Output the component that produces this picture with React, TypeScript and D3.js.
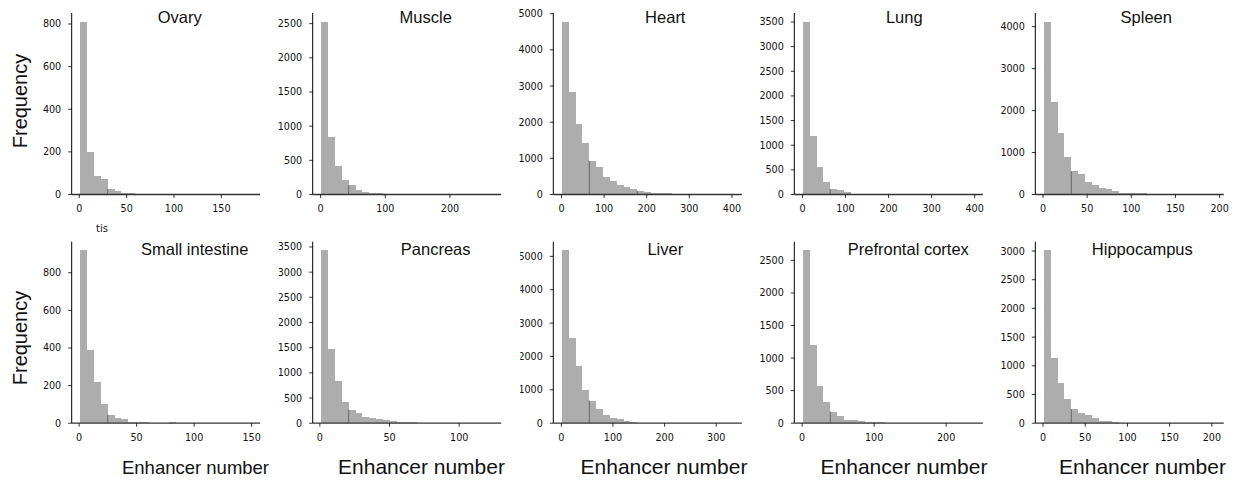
import React from "react";
import * as d3 from "d3";

// ---- data ----
const TISSUES = ["Ovary", "Muscle", "Heart", "Lung", "Spleen", "Small intestine", "Pancreas", "Liver", "Prefrontal cortex", "Hippocampus"];
const RANGE_MIN = [1, 1, 1, 1, 1, 1, 1, 1, 1, 1];
const RANGE_MAX = [182, 266, 403, 399, 195, 150, 124, 333, 239, 204];

const ovary = [811, 198, 86, 72, 25, 16, 8, 5, 4, 3, 3, 2, 1, 2, 1, 1, 1, 0, 1, 1, 0, 1, 0, 0, 1];
const muscle = [2529, 845, 415, 215, 135, 60, 34, 15, 25, 8, 5, 4, 4, 3, 2, 2, 1, 2, 1, 1, 1, 0, 1, 0, 1];
const heart = [4780, 2840, 1950, 1430, 930, 760, 490, 375, 270, 205, 150, 100, 65, 40, 38, 35, 22, 15, 12, 10, 8, 6, 4, 3, 2];
const lung = [3507, 1194, 563, 258, 115, 90, 47, 20, 10, 8, 5, 4, 3, 2, 2, 1, 1, 1, 1, 0, 1, 0, 0, 0, 1];
const spleen = [4120, 2207, 1474, 900, 558, 494, 295, 223, 151, 127, 88, 42, 40, 38, 36, 15, 12, 10, 8, 6, 5, 4, 3, 3, 2];
const smallIntestine = [919, 390, 220, 100, 45, 30, 20, 8, 8, 5, 3, 3, 2, 4, 2, 1, 1, 1, 0, 1, 1, 0, 0, 0, 1];
const pancreas = [3433, 1465, 848, 430, 272, 212, 133, 113, 80, 60, 40, 26, 20, 15, 12, 10, 12, 8, 6, 4, 3, 3, 2, 2, 1];
const liver = [5180, 2540, 1700, 980, 680, 440, 260, 170, 140, 55, 45, 20, 15, 10, 8, 6, 5, 4, 3, 2, 2, 1, 1, 1, 1];
const prefrontal = [2654, 1194, 569, 318, 179, 118, 56, 42, 40, 26, 15, 14, 10, 8, 6, 5, 4, 3, 3, 2, 2, 1, 1, 1, 1];
const hippocampus = [3012, 1134, 698, 419, 244, 174, 140, 87, 47, 30, 17, 12, 10, 8, 10, 6, 5, 4, 3, 3, 2, 2, 1, 1, 1];
const COUNTS = [ovary, muscle, heart, lung, spleen, smallIntestine, pancreas, liver, prefrontal, hippocampus];

const X_TICKS = [
  [0, 50, 100, 150],
  [0, 100, 200],
  [0, 100, 200, 300, 400],
  [0, 100, 200, 300, 400],
  [0, 50, 100, 150, 200],
  [0, 50, 100, 150],
  [0, 50, 100],
  [0, 100, 200, 300],
  [0, 100, 200],
  [0, 50, 100, 150, 200],
];
const Y_TICKS = [
  [0, 200, 400, 600, 800],
  [0, 500, 1000, 1500, 2000, 2500],
  [0, 1000, 2000, 3000, 4000, 5000],
  [0, 500, 1000, 1500, 2000, 2500, 3000, 3500],
  [0, 1000, 2000, 3000, 4000],
  [0, 200, 400, 600, 800],
  [0, 500, 1000, 1500, 2000, 2500, 3000, 3500],
  [0, 1000, 2000, 3000, 4000, 5000],
  [0, 500, 1000, 1500, 2000, 2500],
  [0, 500, 1000, 1500, 2000, 2500, 3000],
];
const N_BINS = 25;
const X_LABEL = "Enhancer number";
const Y_LABEL = "Frequency";

// ---- layout ----
const W = 1239;
const H = 480;
const COL_LEFT = [71.7, 312.7, 553.3, 794.3, 1035.3];
const AX_W = 188.5;
const ROW_TOP = [13, 241.7];
const AX_H = 181.5;
const TITLE_DX = [108, 113, 112, 110, 111, 123, 123, 112, 114, 107];
const TITLE_DY = [10, 13.3];
const EDGE_BINS = [[4], [4], [4, 11], [4], [4], [4], [4], [4], [4], [4]];
const CLIP_LEFT = [null, null, null, null, null, null, 34, 33, null, null];
const YLABEL_CY = [101, 338];
const XLABEL_CX = [195.5, 421.5, 664, 904, 1142.5];
const XLABEL_SIZE = [18.5, 21, 21, 21, 21];
const BAR_FILL = "#acadac";
const TICK_FONT = "DejaVu Sans, sans-serif";
const LABEL_FONT = "Liberation Sans, Arial, Helvetica, sans-serif";

function Panel({ i }: { i: number }) {
  const r = Math.floor(i / 5);
  const c = i % 5;
  const left = COL_LEFT[c];
  const top = ROW_TOP[r];
  const bottom = top + AX_H;
  const right = left + AX_W;
  const lo = RANGE_MIN[i];
  const hi = RANGE_MAX[i];
  const span = hi - lo;
  const counts = COUNTS[i];
  const x = d3.scaleLinear().domain([lo - 0.05 * span, hi + 0.05 * span]).range([left, right]);
  const y = d3.scaleLinear().domain([0, 1.05 * (d3.max(counts) as number)]).range([bottom, top]);
  const edges = d3.range(N_BINS + 1).map((k) => lo + (k * span) / N_BINS);
  const clipId = `clip${i}`;
  const clipL = CLIP_LEFT[i];
  return (
    <g clipPath={clipL != null ? `url(#${clipId})` : undefined}>
      {clipL != null && (
        <defs>
          <clipPath id={clipId}>
            <rect x={left - clipL} y={top - 30} width={AX_W + clipL + 20} height={AX_H + 60} />
          </clipPath>
        </defs>
      )}
      {counts.map((v, k) => (
        <rect
          key={k}
          x={x(edges[k])}
          width={x(edges[k + 1]) - x(edges[k])}
          y={y(v)}
          height={bottom - y(v)}
          fill={BAR_FILL}
          shapeRendering="crispEdges"
        />
      ))}
      {EDGE_BINS[i].map((k) => (
        <line key={"e" + k} x1={x(edges[k])} x2={x(edges[k])} y1={y(counts[k])} y2={bottom} stroke="#555" strokeWidth={0.8} />
      ))}
      {/* spines */}
      <line x1={left} x2={left} y1={top} y2={bottom} stroke="#000" strokeWidth={1} />
      <line x1={left} x2={right} y1={bottom} y2={bottom} stroke="#333" strokeWidth={1.3} />
      {/* y ticks */}
      {Y_TICKS[i].map((t) => (
        <g key={"y" + t}>
          <line x1={left - 3.5} x2={left} y1={y(t)} y2={y(t)} stroke="#000" strokeWidth={0.8} />
          <text x={left - 10.5} y={y(t)} textAnchor="end" dominantBaseline="central" fontFamily={TICK_FONT} fontSize={9.6} fill="#111">
            {t}
          </text>
        </g>
      ))}
      {/* x ticks */}
      {X_TICKS[i].map((t) => (
        <g key={"x" + t}>
          <line x1={x(t)} x2={x(t)} y1={bottom} y2={bottom + 3.5} stroke="#000" strokeWidth={0.8} />
          <text x={x(t)} y={bottom + 14} textAnchor="middle" dominantBaseline="central" fontFamily={TICK_FONT} fontSize={9.6} fill="#111">
            {t}
          </text>
        </g>
      ))}
      <text x={left + TITLE_DX[i]} y={top + TITLE_DY[r]} textAnchor="middle" fontFamily={LABEL_FONT} fontSize={16.5} fill="#111">
        {TISSUES[i]}
      </text>
    </g>
  );
}

export default function App() {
  return (
    <svg width={W} height={H} style={{ position: "absolute", left: 0, top: 0, background: "#fff" }}>
      <rect x={0} y={0} width={W} height={H} fill="#fff" />
      {TISSUES.map((_, i) => (
        <Panel key={i} i={i} />
      ))}
      {YLABEL_CY.map((cy, r) => (
        <text
          key={"yl" + r}
          transform={`translate(27,${cy}) rotate(-90)`}
          textAnchor="middle"
          fontFamily={LABEL_FONT}
          fontSize={20}
          fill="#111"
        >
          {Y_LABEL}
        </text>
      ))}
      {XLABEL_CX.map((cx, c) => (
        <text key={"xl" + c} x={cx} y={474} textAnchor="middle" fontFamily={LABEL_FONT} fontSize={XLABEL_SIZE[c]} fill="#111">
          {X_LABEL}
        </text>
      ))}
      <text x={96} y={232} fontFamily={TICK_FONT} fontSize={10} fill="#111">tis</text>
    </svg>
  );
}
